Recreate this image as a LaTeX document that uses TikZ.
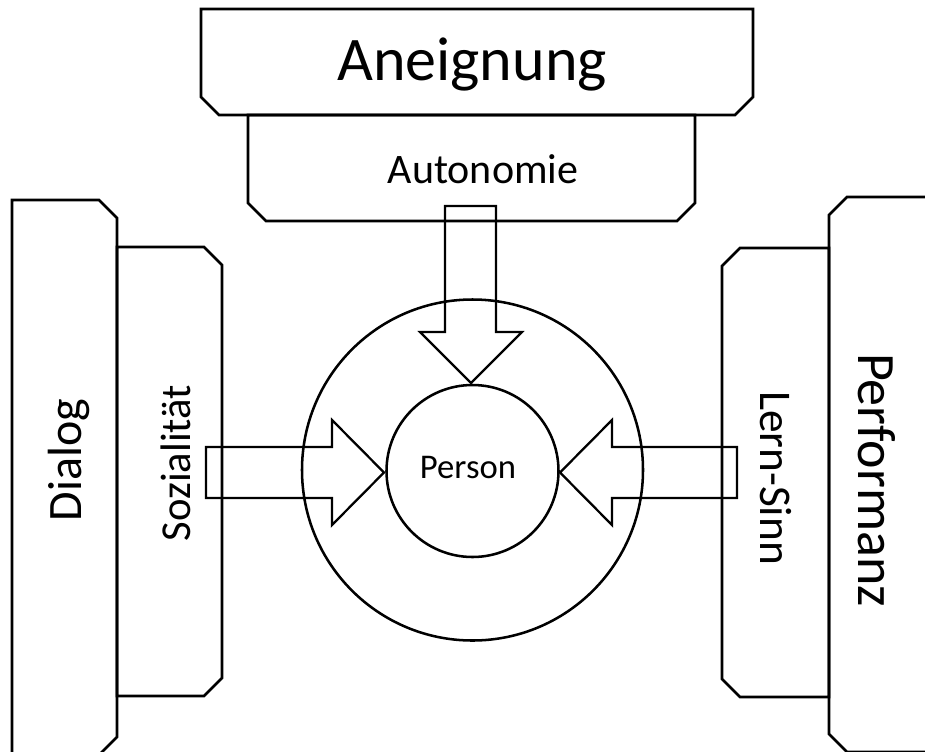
\documentclass[tikz,border=0pt]{standalone}
\usepackage{fontspec}
\setmainfont{Carlito}
\begin{document}
\begin{tikzpicture}[x=0.75pt,y=-0.75pt,
  outline/.style={draw=black,line width=1.9pt,line join=miter},
  blockarrow/.style={draw=black,line width=1.7pt,line join=miter},
  lbl/.style={inner sep=0pt,font=#1},
]
\useasboundingbox (0,0) rectangle (925,751);
\clip (0,0) rectangle (925,751);

% top boxes, chamfered at the lower corners
\draw[outline] (201,9) -- (753,9) -- (753,97) -- (735,115) -- (219,115) -- (201,97) -- cycle;
\draw[outline] (248,115) -- (695,115) -- (695,203) -- (677,221) -- (266,221) -- (248,203) -- cycle;

% left boxes, chamfered at the right corners
\draw[outline] (12,200) -- (99,200) -- (117,218) -- (117,737) -- (99,755) -- (12,755) -- cycle;
\draw[outline] (117,247) -- (204,247) -- (222,265) -- (222,678) -- (204,696) -- (117,696) -- cycle;

% right boxes, chamfered at the left corners
\draw[outline] (829,248) -- (740,248) -- (722,266) -- (722,679) -- (740,697) -- (829,697) -- cycle;
\draw[outline] (940,197) -- (847,197) -- (829,215) -- (829,734) -- (847,752) -- (940,752) -- cycle;

% rings round the person
\node[outline,circle,minimum size=255.75pt,inner sep=0pt] (ring) at (472.5,470) {};
\node[outline,circle,minimum size=129pt,inner sep=0pt] (core) at (472.5,471) {};

% block arrows pointing to the centre
\draw[blockarrow] (445,206) -- (496,206) -- (496,332) -- (522,332) -- (471,383) -- (420,332) -- (445,332) -- cycle;
\draw[blockarrow] (206,447) -- (332,447) -- (332,420) -- (384,472.5) -- (332,525) -- (332,498) -- (206,498) -- cycle;
\draw[blockarrow] (737,447) -- (612,447) -- (612,420) -- (560,472.5) -- (612,525) -- (612,498) -- (737,498) -- cycle;

% labels
\node[lbl={\fontsize{46.5}{54}\selectfont},anchor=base] (aneignung) at (472,80) {Aneignung};
\node[lbl={\fontsize{31.5}{38}\selectfont},anchor=base] (autonomie) at (483,183) {Autonomie};
\node[lbl={\fontsize{36}{44}\selectfont},anchor=base,rotate=90] (dialog) at (81,460) {Dialog};
\node[lbl={\fontsize{32}{38}\selectfont},anchor=base,rotate=90] (sozial) at (190,463) {Sozialität};
\node[lbl={\fontsize{34}{40}\selectfont},anchor=base,rotate=-90] (lernsinn) at (760,478) {Lern-Sinn};
\node[lbl={\fontsize{40.5}{48}\selectfont},anchor=base,rotate=-90] (perf) at (858,480) {Performanz};
\node[lbl={\fontsize{26}{30}\selectfont},anchor=base] (person) at (468,478) {Person};
\end{tikzpicture}
\end{document}
